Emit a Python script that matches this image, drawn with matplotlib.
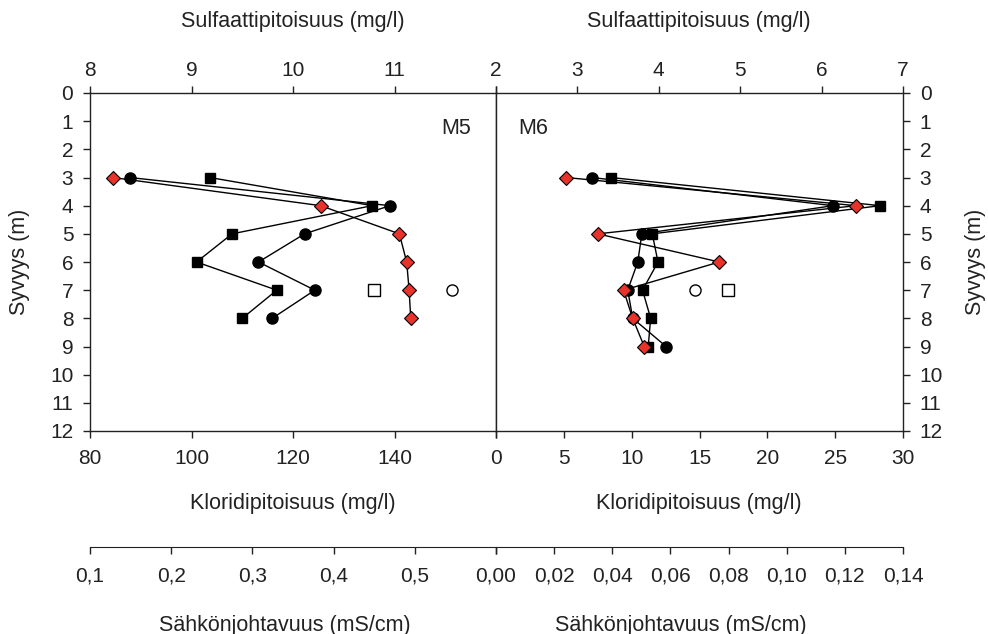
import matplotlib.pyplot as plt

plt.rcParams['font.family'] = ['Liberation Sans', 'DejaVu Sans']

W, H = 988, 634

# M5
depth_m5 = [3, 4, 5, 6, 7, 8]
kloridi_m5 = [87.8, 139.1, 122.3, 113.2, 124.3, 115.9]
sulfaatti_m5 = [9.18, 10.78, 9.40, 9.05, 9.84, 9.50]
sahko_m5 = [0.128, 0.384, 0.481, 0.490, 0.493, 0.495]
kloridi_m5_avoin = 151.4
sulfaatti_m5_avoin = 10.80

# M6
depth_m6 = [3, 4, 5, 6, 7, 8, 9]
kloridi_m6 = [7.06, 24.84, 10.75, 10.45, 9.71, 10.08, 12.54]
sulfaatti_m6 = [3.41, 6.72, 3.92, 3.99, 3.80, 3.90, 3.87]
sahko_m6 = [0.0241, 0.1238, 0.0350, 0.0768, 0.0439, 0.0470, 0.0510]
kloridi_m6_avoin = 14.70
sulfaatti_m6_avoin = 4.85

avoin_depth = 7
depth_ticks = list(range(13))

cl_ticks_m5 = [80, 100, 120, 140, 160]
cl_labels_m5 = ['80', '100', '120', '140', '']
su_ticks_m5 = [8, 9, 10, 11, 12]
su_labels_m5 = ['8', '9', '10', '11', '']
ec_ticks_m5 = [0.1, 0.2, 0.3, 0.4, 0.5, 0.6]
ec_labels_m5 = ['0,1', '0,2', '0,3', '0,4', '0,5', '']

cl_ticks_m6 = [0, 5, 10, 15, 20, 25, 30]
cl_labels_m6 = ['0', '5', '10', '15', '20', '25', '30']
su_ticks_m6 = [2, 3, 4, 5, 6, 7]
su_labels_m6 = ['2', '3', '4', '5', '6', '7']
ec_ticks_m6 = [0.0, 0.02, 0.04, 0.06, 0.08, 0.10, 0.12, 0.14]
ec_labels_m6 = ['0,00', '0,02', '0,04', '0,06', '0,08', '0,10', '0,12', '0,14']

RED = '#e8332b'
INK = '#222222'
TICK_FS = 15
LABEL_FS = 15.5

fig = plt.figure(figsize=(W / 100, H / 100), dpi=100)

panels = [
    dict(rect=[90 / W, 1 - 431 / H, 406 / W, 338 / H], depth=depth_m5,
         cl=kloridi_m5, su=sulfaatti_m5, ec=sahko_m5,
         cl_open=kloridi_m5_avoin, su_open=sulfaatti_m5_avoin,
         cl_ticks=cl_ticks_m5, cl_labels=cl_labels_m5,
         su_ticks=su_ticks_m5, su_labels=su_labels_m5,
         ec_ticks=ec_ticks_m5, ec_labels=ec_labels_m5, side='left'),
    dict(rect=[496 / W, 1 - 431 / H, 407 / W, 338 / H], depth=depth_m6,
         cl=kloridi_m6, su=sulfaatti_m6, ec=sahko_m6,
         cl_open=kloridi_m6_avoin, su_open=sulfaatti_m6_avoin,
         cl_ticks=cl_ticks_m6, cl_labels=cl_labels_m6,
         su_ticks=su_ticks_m6, su_labels=su_labels_m6,
         ec_ticks=ec_ticks_m6, ec_labels=ec_labels_m6, side='right'),
]

for p in panels:
    ax = fig.add_axes(p['rect'])
    ax.set_ylim(12, 0)
    ax.set_yticks(depth_ticks)
    ax.set_xlim(p['cl_ticks'][0], p['cl_ticks'][-1])
    ax.set_xticks(p['cl_ticks'])
    ax.set_xticklabels(p['cl_labels'])
    ax.tick_params(axis='x', direction='out', length=5, width=1, pad=8,
                   labelsize=TICK_FS, colors=INK)
    ax.tick_params(axis='y', direction='out', length=5, width=1, pad=7,
                   labelsize=TICK_FS, colors=INK)
    if p['side'] == 'right':
        ax.yaxis.tick_right()
    for s in ax.spines.values():
        s.set_color(INK)
        s.set_linewidth(1)

    # kloridi: ympyrät
    ax.plot(p['cl'], p['depth'], '-o', color='k', lw=1, ms=8)
    ax.plot([p['cl_open']], [avoin_depth], 'o', mfc='white', mec='k', mew=1, ms=8)

    # sulfaatti: neliöt, yläakseli
    axt = ax.twiny()
    axt.set_xlim(p['su_ticks'][0], p['su_ticks'][-1])
    axt.set_xticks(p['su_ticks'])
    axt.set_xticklabels(p['su_labels'])
    axt.tick_params(axis='x', direction='out', length=5, width=1, pad=4,
                    labelsize=TICK_FS, colors=INK)
    for s in axt.spines.values():
        s.set_visible(False)
    axt.plot(p['su'], p['depth'], '-s', color='k', lw=1, ms=6.5)
    axt.plot([p['su_open']], [avoin_depth], 's', mfc='white', mec='k', mew=1, ms=8)

    # sähkönjohtavuus: vinoneliöt, erillinen alempi akseli
    axe = ax.twiny()
    axe.set_xlim(p['ec_ticks'][0], p['ec_ticks'][-1])
    axe.xaxis.set_ticks_position('bottom')
    axe.spines['bottom'].set_position(('axes', -(547 - 431) / 338))
    for k in ['top', 'left', 'right']:
        axe.spines[k].set_visible(False)
    axe.spines['bottom'].set_color(INK)
    axe.set_xticks(p['ec_ticks'])
    axe.set_xticklabels(p['ec_labels'])
    axe.tick_params(axis='x', direction='out', length=5, width=1, pad=9,
                    labelsize=TICK_FS, colors=INK)
    axe.plot(p['ec'], p['depth'], '-D', color='k', lw=1, ms=7,
             mfc=RED, mec='k', mew=0.8, clip_on=False)

fig.text(456 / W, 1 - 128 / H, 'M5', ha='center', va='center', fontsize=LABEL_FS, color=INK)
fig.text(533 / W, 1 - 128 / H, 'M6', ha='center', va='center', fontsize=LABEL_FS, color=INK)

for cx in [293, 699]:
    fig.text(cx / W, 1 - 22 / H, 'Sulfaattipitoisuus (mg/l)', ha='center', va='center',
             fontsize=LABEL_FS, color=INK)
    fig.text(cx / W, 1 - 504 / H, 'Kloridipitoisuus (mg/l)', ha='center', va='center',
             fontsize=LABEL_FS, color=INK)
fig.text(285 / W, 1 - 625 / H, 'Sähkönjohtavuus (mS/cm)', ha='center', va='center',
         fontsize=LABEL_FS, color=INK)
fig.text(681 / W, 1 - 625 / H, 'Sähkönjohtavuus (mS/cm)', ha='center', va='center',
         fontsize=LABEL_FS, color=INK)

fig.text(20 / W, 1 - 262 / H, 'Syvyys (m)', rotation=90, ha='center', va='center',
         fontsize=LABEL_FS, color=INK)
fig.text(975 / W, 1 - 262 / H, 'Syvyys (m)', rotation=90, ha='center', va='center',
         fontsize=LABEL_FS, color=INK)

fig.savefig('out.png', dpi=100)
